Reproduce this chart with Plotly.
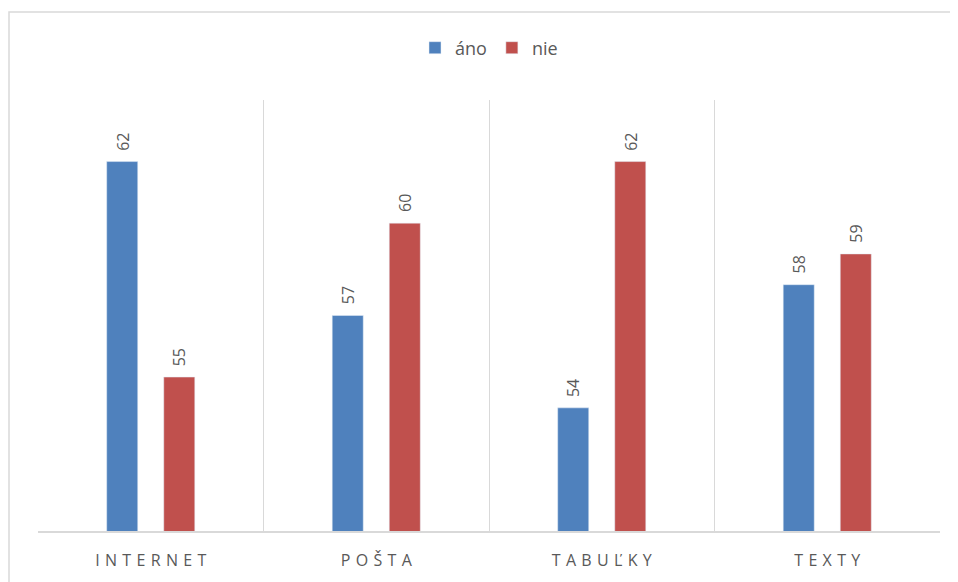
import plotly.graph_objects as go

categories = ["INTERNET", "POŠTA", "TABUĽKY", "TEXTY"]
ano = [62, 57, 54, 58]
nie = [55, 60, 62, 59]

def spaced(s):
    return "\u2004".join(list(s))

tick_text = [spaced(c) for c in categories]

OFF = 8  # default body margin of the html page
W, H = 958 - OFF, 582 - OFF
L, R, T, B = 38 - OFF, 958 - 940, 100 - OFF, 582 - 531
pw, ph = W - L - R, H - T - B

BLUE, RED, TXT, GRID = "#4F81BD", "#C0504D", "#595959", "#D9D9D9"

fig = go.Figure()
fig.add_trace(go.Bar(name="áno", x=categories, y=ano, marker_color=BLUE))
fig.add_trace(go.Bar(name="nie", x=categories, y=nie, marker_color=RED))

for vals, dx in ((ano, -28.5), (nie, 28.5)):
    for c, v in zip(categories, vals):
        fig.add_annotation(x=c, y=v, xref="x", yref="y", text=str(v),
                           textangle=-90, showarrow=False, xshift=dx, yshift=9,
                           yanchor="bottom", xanchor="center",
                           font=dict(size=16, color=TXT))

# outer chart border
fig.add_shape(type="rect", xref="paper", yref="paper",
              x0=(9 - OFF - L) / pw, x1=(W + 5 - L) / pw,
              y0=(H - B - (H + 5)) / ph, y1=(H - B - (12 - OFF)) / ph,
              line=dict(color=GRID, width=1.5), layer="below")

fig.update_layout(
    width=W, height=H,
    margin=dict(l=L, r=R, t=T, b=B),
    paper_bgcolor="white", plot_bgcolor="white",
    barmode="group", bargap=0.494, bargroupgap=0.456,
    font=dict(family="Open Sans, Liberation Sans, sans-serif", color=TXT),
    legend=dict(orientation="h", x=0.5, xanchor="center", y=1.0 + (T - (48 - OFF)) / ph,
                yanchor="middle", font=dict(size=18, color=TXT),
                itemwidth=30, traceorder="normal"),
    showlegend=True,
)
fig.update_xaxes(tickvals=categories, ticktext=tick_text, tickson="boundaries",
                 showgrid=True, gridcolor=GRID, gridwidth=1,
                 showline=True, linecolor=GRID, linewidth=1.5,
                 ticks="", ticklabelstandoff=14,
                 tickfont=dict(size=16, color=TXT))
fig.update_yaxes(range=[50, 64], visible=False, showgrid=False)

fig.write_html("out.html")
